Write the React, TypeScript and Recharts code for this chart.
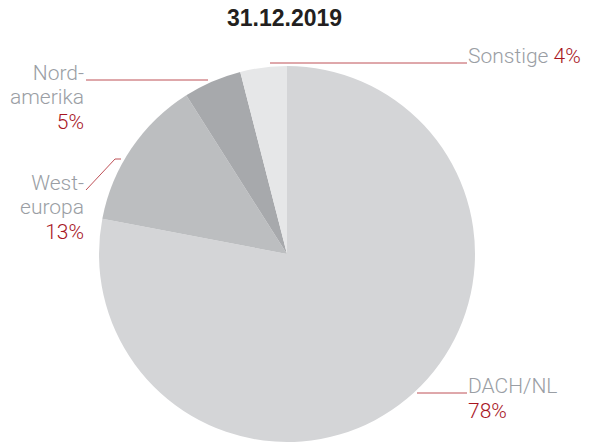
import { PieChart, Pie, Cell } from 'recharts'

const regions = ['DACH/NL', 'West-\neuropa', 'Nord-\namerika', 'Sonstige']
const shares = [78, 13, 5, 4]
const title = '31.12.2019'

const COLORS = ['#d4d5d7', '#bcbec0', '#a7a9ac', '#e6e7e8']
const GRAY = '#9a9ea4'
const RED = '#a8161f'
const FONT = "'Liberation Sans', Arial, sans-serif"
const LABEL_FONT = "Roboto, 'Liberation Sans', sans-serif"

// leader line points + text anchor for each slice
const LAYOUT = [
  { line: [[417, 393], [467, 393]], x: 468, y: 393, anchor: 'start', inline: false },
  { line: [[121, 159], [115, 159], [86, 190]], x: 84, y: 190, anchor: 'end', inline: false },
  { line: [[208, 80], [86, 80]], x: 84, y: 80, anchor: 'end', inline: false },
  { line: [[270, 63], [467, 63]], x: 468, y: 63, anchor: 'start', inline: true },
]

const data = regions.map((r, i) => ({ name: r, value: shares[i] }))

function renderLabel(props: any) {
  const { index, name, value } = props
  const l = LAYOUT[index]
  const lines = String(name).split('\n')
  const pts = l.line.map((p) => p.join(',')).join(' ')
  return (
    <g key={`lbl-${index}`}>
      <polyline points={pts} fill="none" stroke={RED} strokeWidth={1} strokeOpacity={0.75} />
      {l.inline ? (
        <text x={l.x} y={l.y} fontFamily={LABEL_FONT} fontWeight={300} fontSize={21} fill={GRAY} textAnchor="start">
          {lines[0]} <tspan fill={RED}>{value}%</tspan>
        </text>
      ) : (
        <text x={l.x} y={l.y} fontFamily={LABEL_FONT} fontWeight={300} fontSize={21} textAnchor={l.anchor as any}>
          {lines.map((t, i) => (
            <tspan key={i} x={l.x} dy={i === 0 ? 0 : 24} fill={GRAY}>{t}</tspan>
          ))}
          <tspan x={l.x} dy={25} fill={RED}>{value}%</tspan>
        </text>
      )}
    </g>
  )
}

export default function App() {
  return (
    <div style={{ position: 'absolute', left: 0, top: 0, width: 589, height: 443, background: '#fff' }}>
      <div
        style={{
          position: 'absolute', left: 0, top: 5, width: 569, textAlign: 'center',
          fontFamily: FONT, fontWeight: 700, fontSize: 23, color: '#231f20', lineHeight: '26px',
        }}
      >
        {title}
      </div>
      <PieChart width={589} height={443} margin={{ top: 0, right: 0, bottom: 0, left: 0 }}>
        <Pie
          data={data}
          dataKey="value"
          nameKey="name"
          cx={287}
          cy={254}
          outerRadius={188}
          startAngle={90}
          endAngle={-270}
          stroke="none"
          label={renderLabel}
          labelLine={false}
          isAnimationActive={false}
        >
          {data.map((d, i) => (
            <Cell key={d.name} fill={COLORS[i]} />
          ))}
        </Pie>
      </PieChart>
    </div>
  )
}
